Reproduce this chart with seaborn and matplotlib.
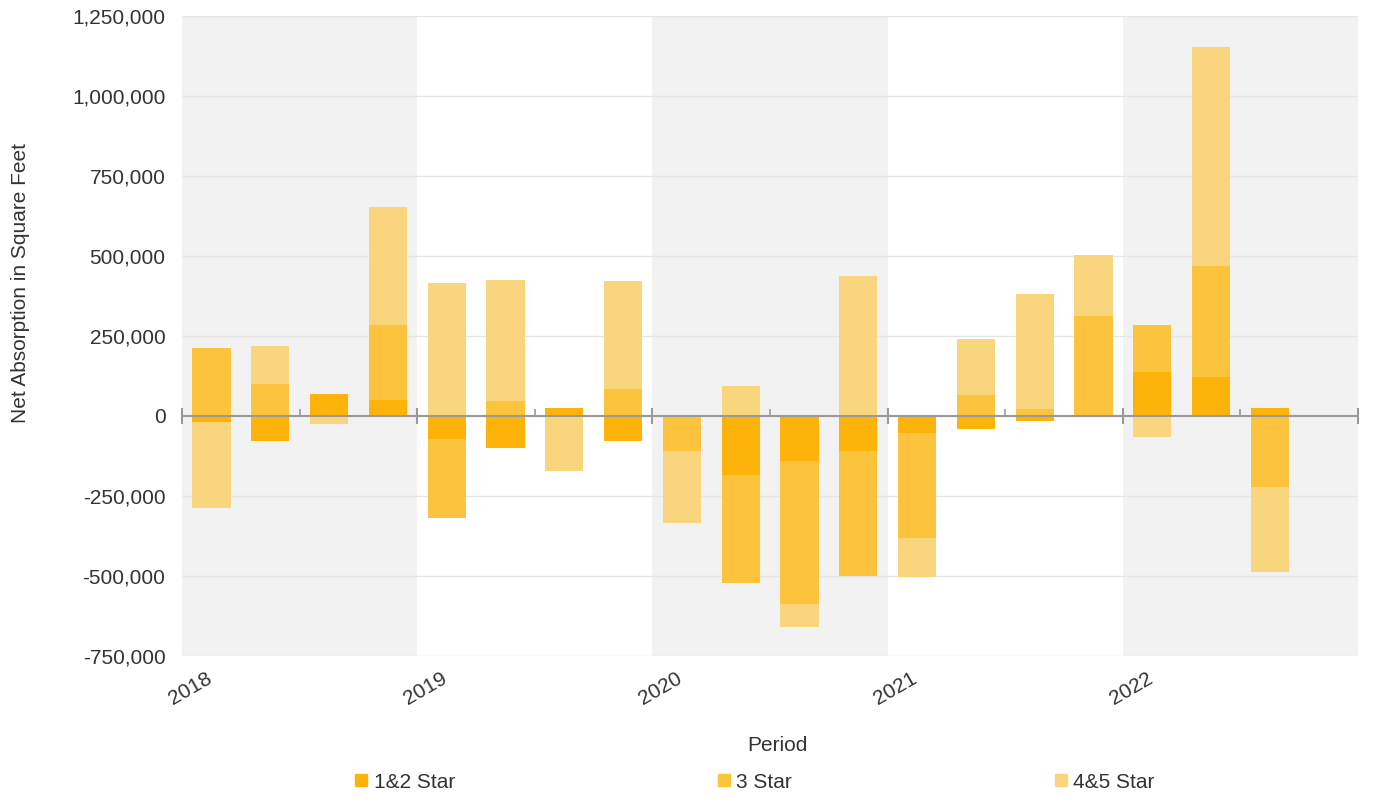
import numpy as np
import pandas as pd
import matplotlib
matplotlib.use("Agg")
import matplotlib.pyplot as plt
import seaborn as sns
from matplotlib.lines import Line2D
from matplotlib.transforms import ScaledTranslation

# ---------------- data ----------------
quarters = ["2018 Q1", "2018 Q2", "2018 Q3", "2018 Q4",
            "2019 Q1", "2019 Q2", "2019 Q3", "2019 Q4",
            "2020 Q1", "2020 Q2", "2020 Q3", "2020 Q4",
            "2021 Q1", "2021 Q2", "2021 Q3", "2021 Q4",
            "2022 Q1", "2022 Q2", "2022 Q3"]
years = ["2018", "2019", "2020", "2021", "2022"]
series_names = ["1&2 Star", "3 Star", "4&5 Star"]

star_12 = [-19000, -77000, 68000, 50000, -73000, -99000, 26000, -79000,
           0, -185000, -140000, -109000, -54000, -42000, -16000, 0,
           136000, 123000, 26000]
star_3 = [212000, 99000, 0, 234000, -246000, 47000, 0, 84000,
          -109000, -338000, -448000, -390000, -328000, 66000, 21000, 312000,
          148000, 345000, -223000]
star_45 = [-269000, 120000, -26000, 369000, 417000, 378000, -172000, 339000,
           -226000, 94000, -73000, 438000, -120000, 176000, 360000, 192000,
           -67000, 685000, -265000]

colors = ["#FDB30A", "#FBC43C", "#F9D67E"]

# ---------------- style ----------------
sns.set_theme(style="white")
plt.rcParams["font.family"] = ["Liberation Sans", "DejaVu Sans"]
text_color = "#333333"

fig = plt.figure(figsize=(13.95, 7.99), dpi=100)
ax = fig.add_axes([0.1305, 0.179, 0.843, 0.801])

n_slots = 4 * len(years)
# alternating year bands
for i, _ in enumerate(years):
    if i % 2 == 0:
        ax.axvspan(4 * i - 0.5, 4 * i + 3.5, color="#F2F2F2", lw=0, zorder=0)

# stacked bars (positive and negative stacks separately)
s12 = np.array(star_12, dtype=float)
s3 = np.array(star_3, dtype=float)
s45 = np.array(star_45, dtype=float)

p12 = np.clip(s12, 0, None)
p3 = p12 + np.clip(s3, 0, None)
p45 = p3 + np.clip(s45, 0, None)
n12 = np.clip(s12, None, 0)
n3 = n12 + np.clip(s3, None, 0)
n45 = n3 + np.clip(s45, None, 0)

layers = [(p45, colors[2]), (p3, colors[1]), (p12, colors[0]),
          (n45, colors[2]), (n3, colors[1]), (n12, colors[0])]
for vals, c in layers:
    sns.barplot(x=quarters, y=vals, color=c, saturation=1, width=0.65,
                errorbar=None, ax=ax, linewidth=0, zorder=2)

ax.set_xlim(-0.5, n_slots - 0.5)
ax.set_ylim(-750000, 1250000)

# grid
yt = np.arange(-750000, 1250001, 250000)
ax.set_yticks(yt)
ax.set_yticklabels([f"{v:,}" for v in yt], fontsize=15, color=text_color)
ax.yaxis.grid(True, color="#E6E6E6", lw=1)
ax.xaxis.grid(False)
ax.set_axisbelow(True)
for s in ax.spines.values():
    s.set_visible(False)

# zero line and its tick marks
ax.axhline(0, color="#9A9A9A", lw=1.5, zorder=3)
year_bounds = [4 * i - 0.5 for i in range(len(years) + 1)]
half_bounds = [4 * i + 1.5 for i in range(len(years))]
ax.plot(year_bounds, [0] * len(year_bounds), ls="none", marker="|", ms=11,
        mew=1.5, color="#9A9A9A", zorder=3, clip_on=False)
ax.plot(half_bounds, [0] * len(half_bounds), ls="none", marker=2, ms=5,
        mew=1.2, color="#9A9A9A", zorder=3)

# x tick labels at year starts
ax.set_xticks(year_bounds[:-1])
ax.set_xticklabels(years, rotation=30, ha="center", fontsize=15, color=text_color)
ax.tick_params(axis="x", length=0, pad=9)
ax.tick_params(axis="y", length=0, pad=12)
off = ScaledTranslation(8 / 100, 0, fig.dpi_scale_trans)
for lab in ax.get_xticklabels():
    lab.set_transform(lab.get_transform() + off)

ax.set_xlabel("Period", fontsize=15, color=text_color)
ax.xaxis.set_label_coords(0.506, -0.125)
ax.set_ylabel("Net Absorption in Square Feet", fontsize=15, color=text_color)
ax.yaxis.set_label_coords(-0.129, 0.583)

handles = [Line2D([], [], ls="none", marker="s", ms=9, color=c) for c in colors]
fig.legend(handles, series_names, loc="center", bbox_to_anchor=(0.541, 0.021),
           ncol=3, frameon=False, fontsize=15, columnspacing=12.6,
           handlelength=0.6, handletextpad=0.3, labelcolor=text_color)

fig.savefig("out.png", dpi=100)
